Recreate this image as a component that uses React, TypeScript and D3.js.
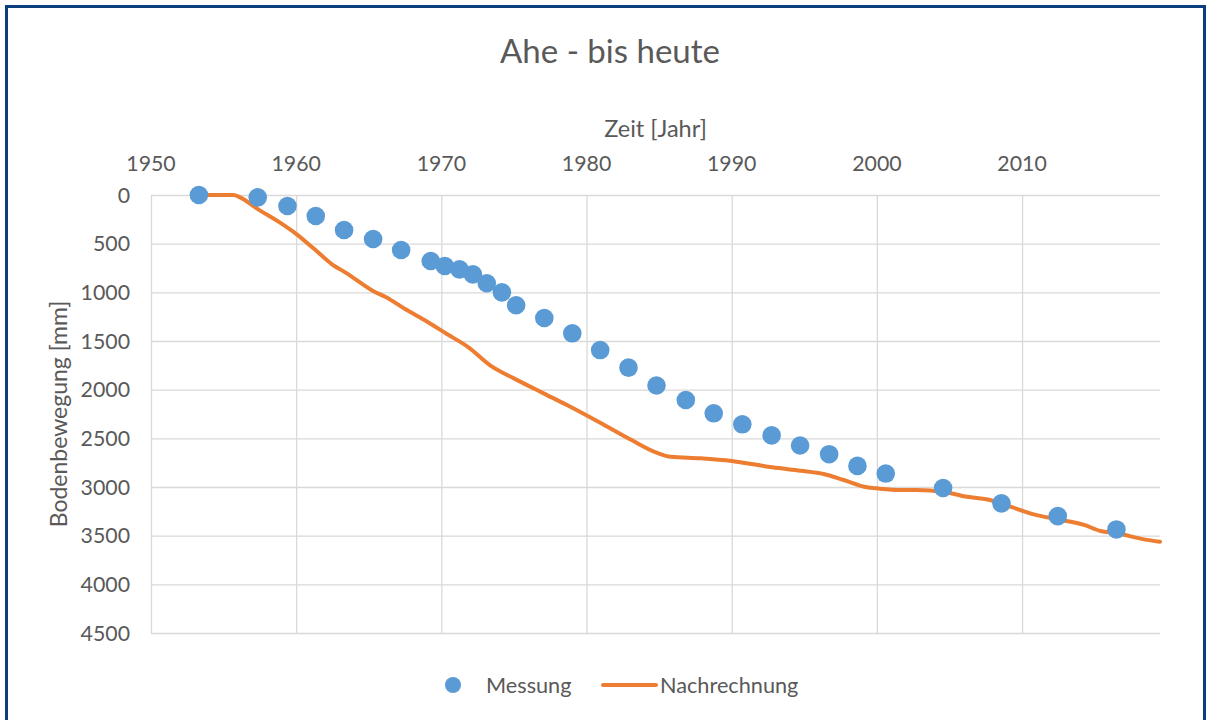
import * as d3 from "d3";

// Messung (measured points)
const measYears = [
  1953.3, 1957.35, 1959.4, 1961.35, 1963.3, 1965.3, 1967.23, 1969.27, 1970.24,
  1971.25, 1972.17, 1973.13, 1974.17, 1975.15, 1977.09, 1979.02, 1980.94,
  1982.89, 1984.82, 1986.84, 1988.76, 1990.73, 1992.75, 1994.71, 1996.71,
  1998.66, 2000.61, 2004.56, 2008.58, 2012.46, 2016.5,
];
const measValues = [
  0, 24, 113, 216, 360, 452, 565, 678, 729, 764, 815, 907, 1000, 1133, 1264,
  1421, 1593, 1774, 1957, 2106, 2243, 2356, 2470, 2574, 2663, 2783, 2862, 3010,
  3168, 3299, 3436,
];

// Nachrechnung (computed curve)
const calcYears = [
  1953.3, 1955.0, 1955.67, 1956.13, 1957.28, 1958.89, 1960.04, 1961.19, 1962.45,
  1963.49, 1965.32, 1966.13, 1967.62, 1969.0, 1970.38, 1971.87, 1973.36,
  1975.0, 1977.04, 1978.65, 1980.94, 1983.0, 1984.87, 1985.8, 1987.84, 1990.0,
  1991.5, 1992.78, 1994.73, 1996.34, 1997.72, 1999.32, 2000.0, 2001.62,
  2002.77, 2004.54, 2006.2, 2007.8, 2009.2, 2010.8, 2012.46, 2014.27, 2015.4,
  2016.55, 2018.4, 2019.5,
];
const calcValues = [
  0, 0, 0, 24, 137, 284, 404, 548, 709, 805, 988, 1046, 1182, 1300, 1428, 1565,
  1750, 1884, 2038, 2158, 2340, 2510, 2650, 2690, 2705, 2733, 2767, 2798, 2832,
  2866, 2928, 3003, 3014, 3031, 3031, 3048, 3100, 3133, 3202, 3281, 3333, 3390,
  3452, 3476, 3538, 3562,
];

const xTicks = [1950, 1960, 1970, 1980, 1990, 2000, 2010];
const yTicks = [0, 500, 1000, 1500, 2000, 2500, 3000, 3500, 4000, 4500];

const W = 1210;
const H = 720;
const plot = { left: 151, right: 1160, top: 195, bottom: 633 };
const font = "Lato, 'Open Sans', sans-serif";
const textColor = "#595959";

export default function App() {
  const x = d3.scaleLinear().domain([1950, 2019.5]).range([plot.left, plot.right]);
  const y = d3.scaleLinear().domain([0, 4500]).range([plot.top, plot.bottom]);

  const line = d3
    .line<number>()
    .x((d, i) => x(calcYears[i]))
    .y((d) => y(d))
    .curve(d3.curveMonotoneX);

  const midX = (plot.left + plot.right) / 2;
  const midY = (plot.top + plot.bottom) / 2;

  return (
    <svg
      width={W}
      height={H}
      style={{ position: "absolute", left: 0, top: 0, background: "#fff" }}
      fontFamily={font}
    >
      {/* frame */}
      <path
        d={`M6.5,${H} V6.5 H1204.5 V${H}`}
        fill="none"
        stroke="#0b3e7c"
        strokeWidth={3}
      />

      <text x={610} y={63} textAnchor="middle" fontSize={33} fill={textColor}>
        Ahe - bis heute
      </text>

      <text x={midX} y={137} textAnchor="middle" fontSize={23.5} fill={textColor}>
        Zeit [Jahr]
      </text>

      {/* grid */}
      {yTicks.map((t) => (
        <line
          key={"h" + t}
          x1={plot.left}
          x2={plot.right}
          y1={y(t) + 0.5}
          y2={y(t) + 0.5}
          stroke="#d9d9d9"
          strokeWidth={1.3}
        />
      ))}
      {xTicks.map((t) => (
        <line
          key={"v" + t}
          x1={x(t) + 0.5}
          x2={x(t) + 0.5}
          y1={plot.top}
          y2={plot.bottom}
          stroke="#d9d9d9"
          strokeWidth={1.3}
        />
      ))}

      {xTicks.map((t) => (
        <text
          key={"xt" + t}
          x={x(t)}
          y={170.5}
          textAnchor="middle"
          fontSize={21.3}
          fill={textColor}
        >
          {t}
        </text>
      ))}
      {yTicks.map((t) => (
        <text
          key={"yt" + t}
          x={130}
          y={y(t) + 7.5}
          textAnchor="end"
          fontSize={21.3}
          fill={textColor}
        >
          {t}
        </text>
      ))}

      <text
        transform={`translate(67,${midY}) rotate(-90)`}
        textAnchor="middle"
        fontSize={23}
        fill={textColor}
      >
        Bodenbewegung [mm]
      </text>

      <path
        d={line(calcValues) || ""}
        fill="none"
        stroke="#ed7d31"
        strokeWidth={4}
        strokeLinejoin="round"
        strokeLinecap="round"
      />

      {measValues.map((v, i) => (
        <circle key={"m" + i} cx={x(measYears[i])} cy={y(v)} r={9.3} fill="#5b9bd5" />
      ))}

      {/* legend */}
      <circle cx={453} cy={685} r={8} fill="#5b9bd5" />
      <text x={486} y={692.5} fontSize={21.7} fill={textColor}>
        Messung
      </text>
      <line
        x1={603}
        x2={656}
        y1={685}
        y2={685}
        stroke="#ed7d31"
        strokeWidth={4}
        strokeLinecap="round"
      />
      <text x={660} y={692.5} fontSize={21.7} fill={textColor}>
        Nachrechnung
      </text>
    </svg>
  );
}
